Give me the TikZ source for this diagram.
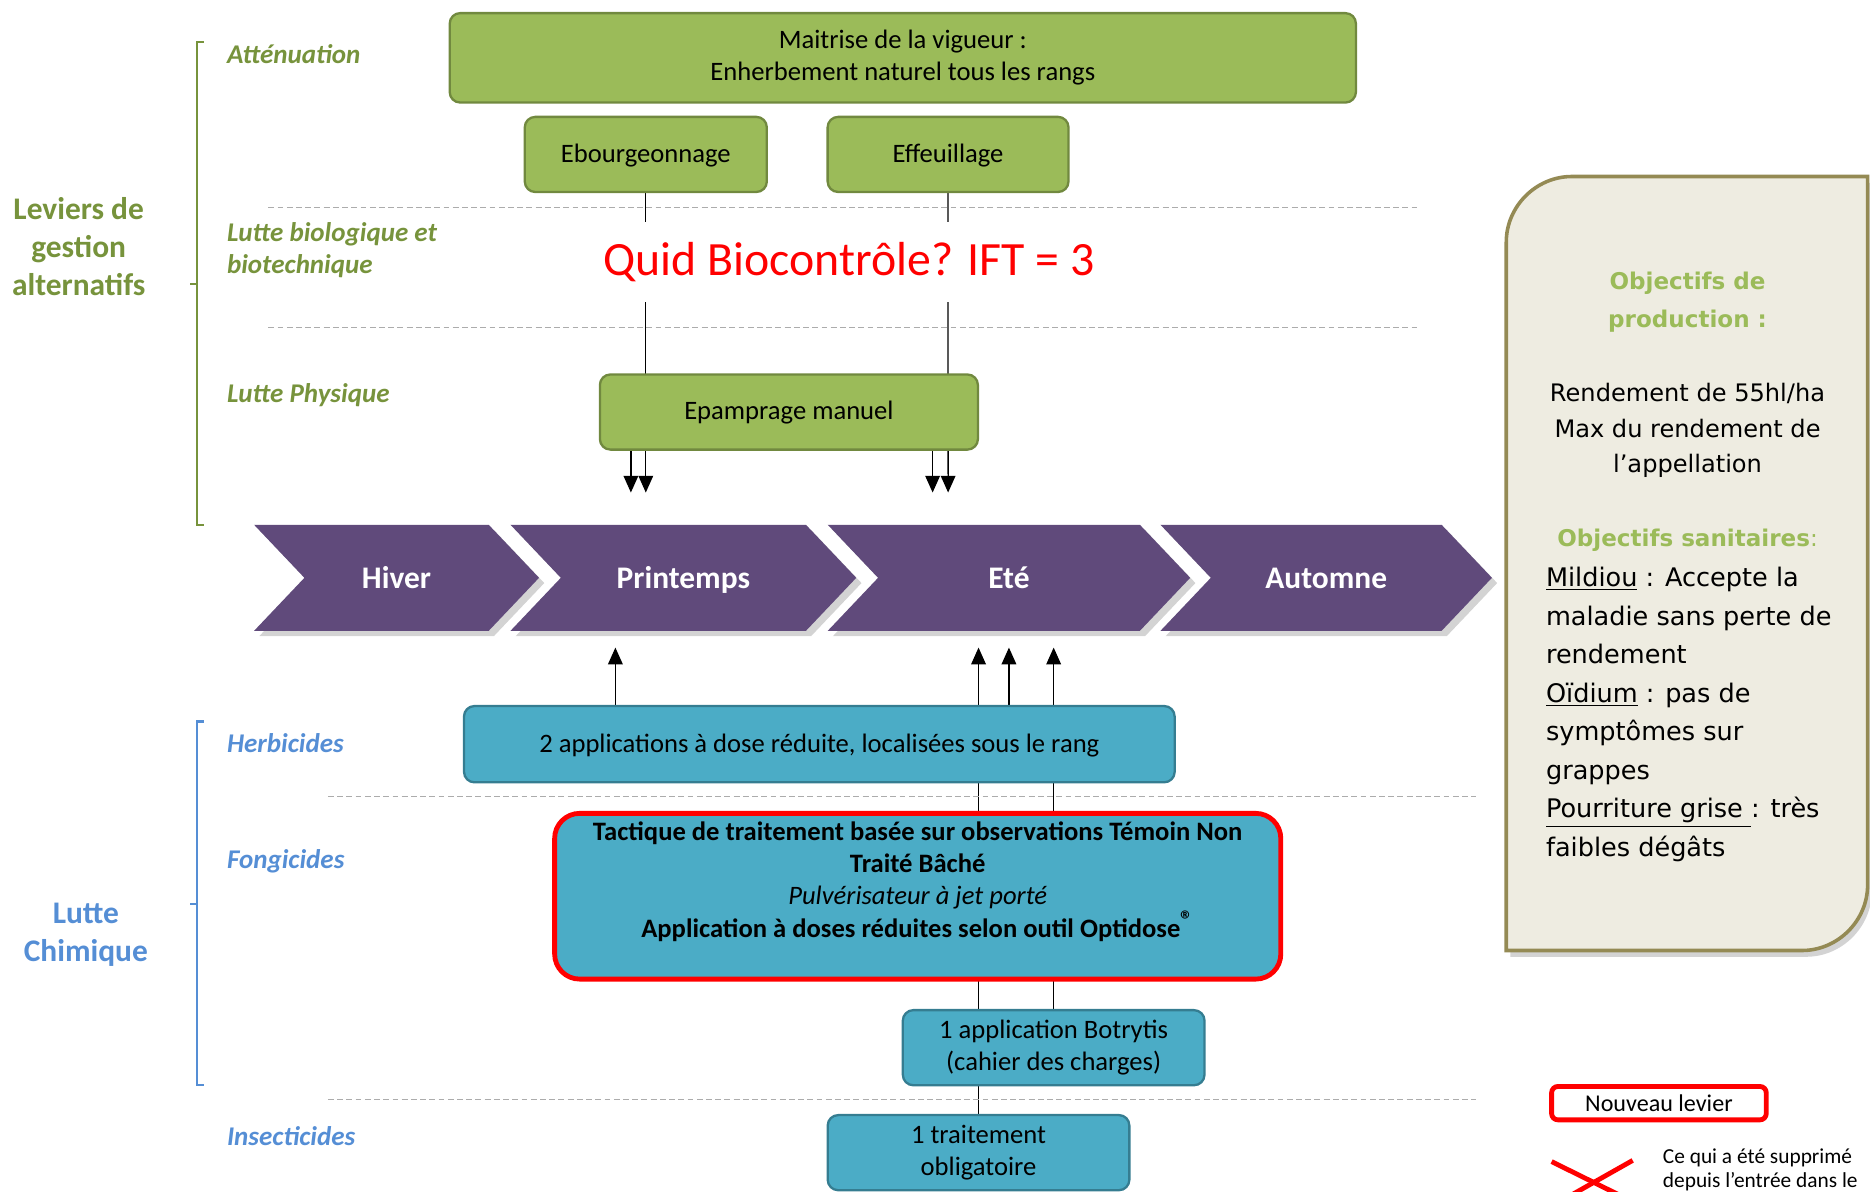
\documentclass[tikz,border=0pt]{standalone}
\usepackage{fontspec}
\setmainfont{Carlito}
\newfontfamily\verdanafont{DejaVu Sans}
\usetikzlibrary{shapes.geometric,shapes.symbols}
\usetikzlibrary{arrows.meta,backgrounds,shadows}
\definecolor{vertbox}{HTML}{9BBB59}
\definecolor{vertbord}{HTML}{71893F}
\definecolor{vertlab}{HTML}{77933C}
\definecolor{bleubox}{HTML}{4BACC6}
\definecolor{bleubord}{HTML}{357D91}
\definecolor{bleulab}{HTML}{558ED5}
\definecolor{saisoncol}{HTML}{604A7B}
\definecolor{beige}{HTML}{EEECE1}
\definecolor{beigebord}{HTML}{948A54}
\definecolor{rouge}{HTML}{FF0000}
\tikzstyle{greenbox} = [rectangle, draw=vertbord, fill=vertbox, line width=1.1pt,
    rounded corners=5pt, align=center, minimum height=1.26cm,
    font=\fontsize{12.7}{15.4}\selectfont]
\tikzstyle{bluebox} = [rectangle, draw=bleubord, fill=bleubox, line width=1.1pt,
    rounded corners=5pt, align=center, minimum height=1.26cm,
    font=\fontsize{12.7}{15.4}\selectfont]
\tikzstyle{oneline} = [text height=1.1em, text depth=0.35em]
\tikzstyle{saison} = [signal, signal from=west, signal to=east, signal pointer angle=93,
    fill=saisoncol, text=white, minimum height=1.78cm, inner sep=0pt,
    text height=1.2em, text depth=0.2em,
    font=\bfseries\fontsize{15}{18}\selectfont,
    drop shadow={shadow xshift=2.5pt, shadow yshift=-2.5pt, opacity=0.35}]
\tikzstyle{levier} = [anchor=west, align=left, inner xsep=0pt, font=\bfseries\itshape\fontsize{12.9}{15.4}\selectfont]
\tikzstyle{grouplabel} = [align=center, font=\bfseries\fontsize{15}{18.2}\selectfont]
\tikzstyle{objtitre} = [align=center, text=vertbox, font=\verdanafont\fontsize{11}{18.2}\selectfont\bfseries]
\tikzstyle{separe} = [draw=gray!65, dash pattern=on 2.8pt off 1.6pt, line width=0.5pt]
\tikzstyle{accolade} = [line width=1.1pt]
\tikzstyle{line} = [draw, line width=0.6pt, -{Triangle[length=8pt,width=7pt]}]

\begin{document}
\begin{tikzpicture}[x=0.02cm, y=-0.02cm, node distance=5cm, auto]
    \useasboundingbox (0,0) rectangle (1568,999);
    \clip (0,0) rectangle (1568,999);
    % Group labels and brackets
    \node[grouplabel, text=vertlab] (levgest) at (66,207) {Leviers de\\gestion\\alternatifs};
    \node[grouplabel, text=bleulab] (lutchim) at (72,784) {Lutte\\Chimique};
    \draw[accolade, vertlab] (171,35) -- (165,35) -- (165,440) -- (171,440);
    \draw[accolade, vertlab] (165,238) -- (159,238);
    \draw[accolade, bleulab] (171,605) -- (165,605) -- (165,910) -- (171,910);
    \draw[accolade, bleulab] (165,758) -- (159,758);
    \node[levier, text=vertlab] (attenu) at (190,45) {Atténuation};
    \node[levier, text=vertlab] (biolog) at (190,210) {Lutte biologique et\\biotechnique};
    \node[levier, text=vertlab] (physiq) at (190,331) {Lutte Physique};
    \node[levier, text=bleulab] (herbilab) at (190,623) {Herbicides};
    \node[levier, text=bleulab] (fongilab) at (190,722) {Fongicides};
    \node[levier, text=bleulab] (insectlab) at (190,953) {Insecticides};
    % Separators
    \draw[separe] (225,174) -- (1188,174);
    \draw[separe] (225,275) -- (1188,275);
    \draw[separe] (275,668) -- (1238,668);
    \draw[separe] (275,922) -- (1238,922);
    % Place nodes
    \node[greenbox, minimum width=15.2cm, minimum height=1.5cm] (vigueur) at (757,48.5)
        {Maitrise de la vigueur :\\Enherbement naturel tous les rangs};
    \node[greenbox, oneline, minimum width=4.06cm] (ebour) at (541.5,129.5) {Ebourgeonnage};
    \node[greenbox, oneline, right of=ebour, node distance=5.07cm, minimum width=4.04cm] (effeuil) {Effeuillage};
    \node[fill=white, text=rouge, minimum height=1.34cm, inner xsep=2pt,
        font=\fontsize{22.8}{27}\selectfont] (quid) at (712,220) {Quid Biocontrôle? IFT = 3};
    \node[greenbox, oneline, minimum width=6.34cm] (epamp) at (661.5,345.5) {Epamprage manuel};
    \node[saison, minimum width=4.78cm] (hiver) at (332.5,484.5) {Hiver};
    \node[saison, minimum width=5.8cm] (printemps) at (573,484.5) {Printemps};
    \node[saison, minimum width=6.08cm] (ete) at (846,484.5) {Eté};
    \node[saison, minimum width=5.56cm] (automne) at (1112,484.5) {Automne};
    \node[bluebox, oneline, minimum width=11.92cm, minimum height=1.28cm] (herbi) at (687,624)
        {2 applications à dose réduite, localisées sous le rang};
    \node[bluebox, draw=rouge, line width=2.3pt, rounded corners=0.42cm, inner sep=0.14cm,
        minimum width=12.18cm, minimum height=2.78cm] (fongi) at (769.5,751.5)
        {\parbox[c][2.5cm][t]{11.8cm}{\centering\bfseries
        Tactique de traitement basée sur observations Témoin Non\\Traité Bâché\\
        {\mdseries\itshape Pulvérisateur à jet porté}\\
        Application à doses réduites selon outil Optidose\textsuperscript{\large ®}}};
    \node[bluebox, minimum width=5.06cm] (botry) at (883.5,878.5) {1 application Botrytis\\(cahier des charges)};
    \node[bluebox, minimum width=5.06cm] (insect) at (820.5,966.5) {1 traitement\\obligatoire};
    % Objectives box
    \draw[draw=beigebord, fill=beige, line width=1.7pt,
        drop shadow={shadow xshift=2pt, shadow yshift=-3pt, opacity=0.35}]
        (1263,797) -- (1263,203) .. controls (1263,173) and (1288,148) .. (1318,148)
        -- (1566,148) -- (1566,742) .. controls (1566,772) and (1541,797) .. (1511,797) -- cycle;
    \node[objtitre] (prodtitre) at (1415,253) {Objectifs de\\production :};
    \node[align=center, font=\verdanafont\fontsize{11.5}{17}\selectfont] (rendement) at (1415,361)
        {Rendement de 55hl/ha\\Max du rendement de\\l’appellation};
    \node[objtitre] (santitre) at (1415,453) {Objectifs sanitaires{\mdseries :}};
    \node[anchor=west, align=left, inner sep=0pt, font=\verdanafont\fontsize{12.2}{18.4}\selectfont]
        (sanliste) at (1296,599)
        {\underline{Mildiou} : Accepte la\\maladie sans perte de\\rendement\\
        \underline{Oïdium} : pas de\\symptômes sur\\grappes\\
        \underline{Pourriture grise\ }: très\\faibles dégâts};
    % Legend
    \node[draw=rouge, line width=2.3pt, rounded corners=3pt, minimum width=3.6cm, minimum height=0.56cm,
        inner sep=0pt, font=\fontsize{11.5}{13}\selectfont] (nouveau) at (1391,925) {Nouveau levier};
    \draw[rouge, line width=2.3pt] (1301,974) -- (1378,1012);
    \draw[rouge, line width=2.3pt] (1369,973) -- (1300,1012);
    \node[anchor=west, align=left, inner sep=0pt, font=\fontsize{10.2}{11.6}\selectfont] (suppr) at (1394,981)
        {Ce qui a été supprimé\\depuis l’entrée dans le};
    % Arrow ends
    \coordinate (printA) at (529,413);
    \coordinate (printB) at (541.5,413);
    \coordinate (eteA) at (782,413);
    \coordinate (eteB) at (795,413);
    \coordinate (upP) at (516,543);
    \coordinate (upE1) at (820.5,543);
    \coordinate (upE2) at (846,543);
    \coordinate (upE3) at (883.5,543);
    % Draw edges
    \begin{scope}[on background layer]
        \path [line] (ebour.south) -- (printB);
        \path [line] (effeuil.south) -- (eteB);
        \path [line] (epamp.south -| printA) -- (printA);
        \path [line] (epamp.south -| eteA) -- (eteA);
        \path [line] (herbi.north -| upP) -- (upP);
        \path [line] (herbi.north -| upE2) -- (upE2);
        \path [line] (insect.north) -- (upE1);
        \path [line] (botry.north) -- (upE3);
    \end{scope}
\end{tikzpicture}
\end{document}
